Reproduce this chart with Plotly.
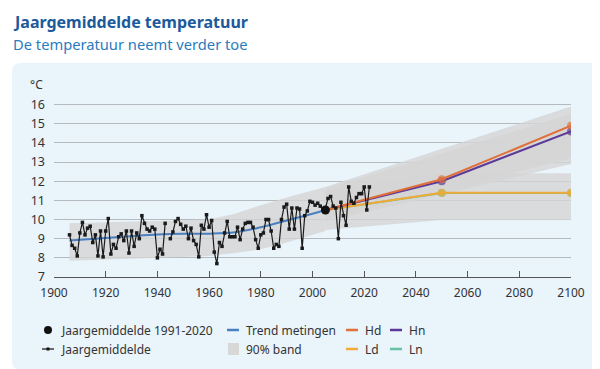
import plotly.graph_objects as go

# ---------------- data ----------------
obs_years = list(range(1906, 2023))
obs_temps = [
    9.2, 8.65, 8.5, 8.1, 9.3, 9.85, 9.2, 9.55, 9.65, 8.8,          # 1906-1915
    9.2, 8.1, 9.4, 8.05, 9.4, 10.05, 8.2, 8.7, 8.5, 9.1,           # 1916-1925
    9.25, 8.9, 9.4, 8.25, 9.4, 8.6, 9.3, 9.0, 10.2, 9.8,           # 1926-1935
    9.5, 9.4, 9.6, 9.5, 8.0, 8.45, 8.2, 9.8, None, 9.0,            # 1936-1945
    9.35, 9.9, 10.05, 9.75, 9.5, 9.65, 9.0, 9.55, 8.9, 8.7,        # 1946-1955
    8.05, 9.7, 9.5, 10.25, 9.6, 9.95, 8.3, 7.7, 8.8, 8.6,          # 1956-1965
    9.3, 9.9, 9.1, 9.1, 9.1, 9.6, 8.95, 9.5, 9.8, 9.85,            # 1966-1975
    9.85, 9.6, 8.95, 8.5, 9.2, 9.3, 10.0, 10.0, 9.4, 8.5,          # 1976-1985
    8.7, 8.6, 10.0, 10.65, 10.8, 9.5, 10.6, 9.5, 10.6, 10.55,      # 1986-1995
    8.5, 10.2, 10.45, 10.95, 10.9, 10.75, 10.85, 10.7, 10.5, 10.6, # 1996-2005
    11.1, 11.2, 10.7, 10.6, 9.0, 10.9, 10.2, 9.7, 11.7, 10.95,     # 2006-2015
    10.85, 11.15, 11.35, 11.35, 11.7, 10.5, 11.7,                  # 2016-2022
]

ref_year = [2005]
ref_temp = [10.5]

trend_years = [1906, 1920, 1930, 1940, 1950, 1960, 1970, 1980, 1990, 2000, 2005]
trend_vals = [8.9, 9.03, 9.13, 9.22, 9.26, 9.26, 9.33, 9.6, 9.95, 10.3, 10.5]

band_years = [1906, 1930, 1950, 1960, 1970, 1980, 1990, 2005]
band_upper = [9.8, 9.9, 9.95, 10.0, 10.3, 10.75, 11.15, 11.7]
band_lower = [7.85, 7.95, 8.05, 8.1, 8.25, 8.45, 8.8, 9.4]

scen_years = [2005, 2050, 2100]
hd_vals = [10.5, 12.1, 14.9]
hn_vals = [10.5, 12.0, 14.6]
ld_vals = [10.5, 11.4, 11.4]
ln_vals = [10.5, 11.38, 11.38]

hband_years = [2005, 2100]
hd_band_upper = [11.7, 15.9]
hd_band_lower = [10.0, 13.2]
hn_band_upper = [11.6, 15.5]
hn_band_lower = [9.9, 12.9]
lband_years = [2005, 2050, 2100]
l_band_upper = [11.5, 12.42, 12.42]
l_band_lower = [9.45, 9.97, 9.97]

x_ticks = list(range(1900, 2101, 20))
y_ticks = list(range(7, 17))

# ---------------- styling ----------------
FONT = "Noto Sans"
W, H = 600, 369
L, R, T, B = 46, 37, 87, 100
PW, PH = W - L - R, H - T - B
BG_PANEL = "#eaf4fb"
BAND = "rgba(212,212,212,0.8)"
C_TREND = "#4a7fc0"
C_HD = "#e0703a"
C_HN = "#5b3a98"
C_LD = "#f0aa35"
C_LN = "#67c2a3"


def px(x):
    return (x - L) / PW


def py(y):
    return (H - B - y) / PH


fig = go.Figure()


def add_band(xs, lo, hi):
    fig.add_trace(go.Scatter(x=xs + xs[::-1], y=hi + lo[::-1], fill="toself",
                             fillcolor=BAND, line=dict(width=0), mode="lines",
                             hoverinfo="skip", showlegend=False))


add_band(band_years, band_lower, band_upper)
add_band(lband_years, l_band_lower, l_band_upper)
add_band(hband_years, hd_band_lower, hd_band_upper)
add_band(hband_years, hn_band_lower, hn_band_upper)

# trend
fig.add_trace(go.Scatter(x=trend_years, y=trend_vals, mode="lines",
                         line=dict(color=C_TREND, width=2, shape="spline"),
                         showlegend=False))

# scenarios
for vals, col in [(ln_vals, C_LN), (ld_vals, C_LD), (hn_vals, C_HN), (hd_vals, C_HD)]:
    fig.add_trace(go.Scatter(x=scen_years, y=vals, mode="lines+markers",
                             line=dict(color=col, width=2),
                             marker=dict(color=col, size=[0, 8, 8], line=dict(width=0)),
                             showlegend=False))

# observations
fig.add_trace(go.Scatter(x=obs_years, y=obs_temps, mode="lines+markers",
                         line=dict(color="#1a1a1a", width=1.2),
                         marker=dict(color="#1a1a1a", size=3.5, symbol="square",
                                     line=dict(width=0)),
                         connectgaps=False, showlegend=False))
fig.add_trace(go.Scatter(x=ref_year, y=ref_temp, mode="markers",
                         marker=dict(color="#111", size=9, line=dict(width=0)),
                         showlegend=False))

# ---------------- panel background ----------------
x0, y0, x1, y1, r = 4, 55, 594, 362, 9
path = (f"M {px(x0 + r)} {py(y0)} L {px(x1 - r)} {py(y0)} "
        f"Q {px(x1)} {py(y0)} {px(x1)} {py(y0 + r)} "
        f"L {px(x1)} {py(y1 - r)} Q {px(x1)} {py(y1)} {px(x1 - r)} {py(y1)} "
        f"L {px(x0 + r)} {py(y1)} Q {px(x0)} {py(y1)} {px(x0)} {py(y1 - r)} "
        f"L {px(x0)} {py(y0 + r)} Q {px(x0)} {py(y0)} {px(x0 + r)} {py(y0)} Z")
shapes = [dict(type="path", path=path, xref="paper", yref="paper",
               fillcolor=BG_PANEL, line=dict(width=0), layer="below")]

annotations = [
    dict(text="<b>Jaargemiddelde temperatuur</b>", x=px(3), y=py(14), xref="paper", yref="paper",
         xanchor="left", yanchor="middle", showarrow=False,
         font=dict(family=FONT, size=16, color="#1b5a9b")),
    dict(text="De temperatuur neemt verder toe", x=px(3), y=py(36), xref="paper", yref="paper",
         xanchor="left", yanchor="middle", showarrow=False,
         font=dict(family=FONT, size=14.7, color="#2a7bc0")),
    dict(text="°C", x=px(37), y=py(76), xref="paper", yref="paper",
         xanchor="right", yanchor="middle", showarrow=False,
         font=dict(family=FONT, size=12, color="#333")),
]

# ---------------- legend (manual) ----------------
row1, row2 = 322, 341
leg_font = dict(family=FONT, size=12, color="#333")


def leg_text(t, x, y):
    annotations.append(dict(text=t, x=px(x), y=py(y), xref="paper", yref="paper",
                            xanchor="left", yanchor="middle", showarrow=False, font=leg_font))


def leg_dash(col, x, y):
    shapes.append(dict(type="line", x0=px(x), x1=px(x + 12), y0=py(y), y1=py(y),
                       xref="paper", yref="paper", line=dict(color=col, width=2.5)))


shapes.append(dict(type="circle", x0=px(36), x1=px(44), y0=py(row1 - 4), y1=py(row1 + 4),
                   xref="paper", yref="paper", fillcolor="#111", line=dict(width=0)))
leg_text("Jaargemiddelde 1991-2020", 51, row1)
leg_dash(C_TREND, 219, row1)
leg_text("Trend metingen", 236, row1)
leg_dash(C_HD, 338, row1)
leg_text("Hd", 355, row1)
leg_dash(C_HN, 382, row1)
leg_text("Hn", 399, row1)

shapes.append(dict(type="line", x0=px(34), x1=px(46), y0=py(row2), y1=py(row2),
                   xref="paper", yref="paper", line=dict(color="#111", width=1.2)))
shapes.append(dict(type="rect", x0=px(38.5), x1=px(41.5), y0=py(row2 - 1.5), y1=py(row2 + 1.5),
                   xref="paper", yref="paper", fillcolor="#111", line=dict(width=0)))
leg_text("Jaargemiddelde", 51, row2)
shapes.append(dict(type="rect", x0=px(220), x1=px(231), y0=py(row2 - 6), y1=py(row2 + 6),
                   xref="paper", yref="paper", fillcolor="#d8d8d8", line=dict(width=0)))
leg_text("90% band", 236, row2)
leg_dash(C_LD, 338, row2)
leg_text("Ld", 355, row2)
leg_dash(C_LN, 382, row2)
leg_text("Ln", 399, row2)

fig.update_layout(
    width=W, height=H,
    margin=dict(l=L, r=R, t=T, b=B, pad=0),
    paper_bgcolor="white", plot_bgcolor="rgba(0,0,0,0)",
    font=dict(family=FONT, size=12, color="#333"),
    shapes=shapes, annotations=annotations,
    xaxis=dict(range=[1900, 2100], tickvals=x_ticks, showgrid=False, zeroline=False,
               showline=True, linecolor="#555", linewidth=1.3,
               ticks="inside", ticklen=6, tickcolor="#555", tickwidth=1.3,
               ticklabelstandoff=4,
               tickfont=dict(family=FONT, size=12, color="#333")),
    yaxis=dict(range=[7, 16.5], tickvals=y_ticks, showgrid=True, gridcolor="#b5babe",
               gridwidth=1, zeroline=False, showline=False, ticks="",
               ticklabelstandoff=8,
               tickfont=dict(family=FONT, size=12.5, color="#333")),
)

fig.write_html("out.html")
